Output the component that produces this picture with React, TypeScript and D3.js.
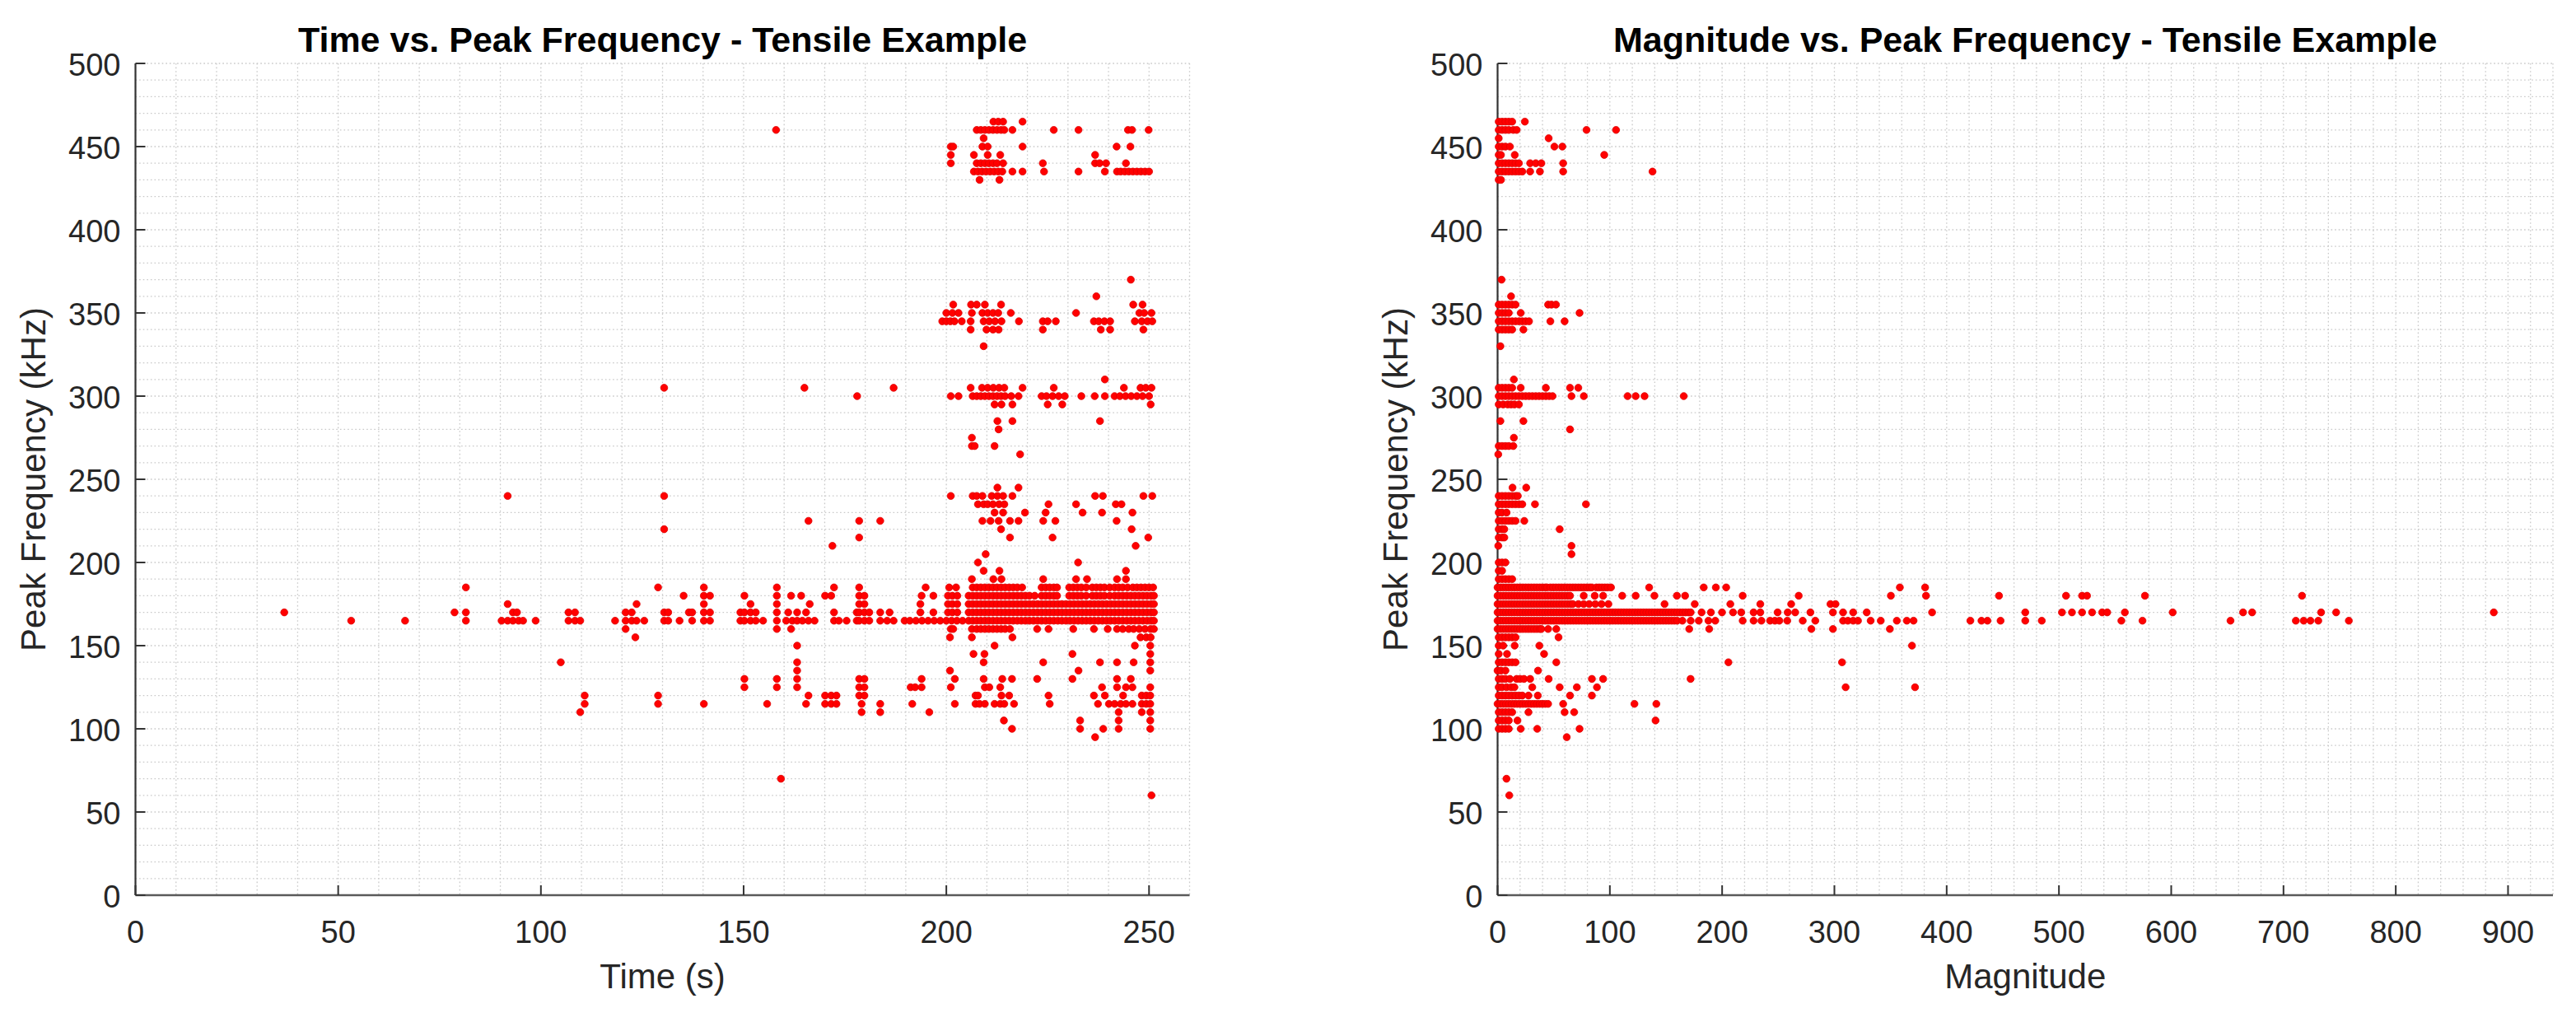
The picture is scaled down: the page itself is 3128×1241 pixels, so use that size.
import React from 'react';
import * as d3 from 'd3';

const W = 3128;
const H = 1241;

// ---------- Left panel: Time (s) values for each Peak Frequency row (kHz) ----------
const L465 = [211.6, 212.8, 214.0, 218.8];
const L460 = [158, 207.5, 208.5, 209.5, 210.5, 211.5, 212.5, 213.5, 214.3, 216.3, 226.5, 232.6, 244.8, 245.8, 249.9];
const L455 = [209.2];
const L450 = [201.1, 201.7, 208.9, 210.2, 218.8, 242.0, 245.4];
const L445 = [201.1, 206.8, 210.2, 213.3, 236.7];
const L440 = [201.1, 207.5, 208.5, 209.5, 210.5, 211.5, 212.5, 214.0, 223.8, 236.7, 237.8, 239.4, 244.3];
const L435 = [206.8, 207.8, 208.8, 209.8, 210.8, 211.8, 212.8, 213.8, 216.3, 218.8, 224.1, 232.6, 239.1, 242.1, 243.0, 244.0, 245.0, 246.0, 247.0, 248.0, 249.0, 250.0];
const L430 = [208.2, 213.1];
const L370 = [245.5];
const L360 = [237.0];
const L355 = [201.7, 206.1, 207.5, 209.5, 213.5, 246.1, 248.4];
const L350 = [200.0, 201.5, 203.0, 206.3, 208.9, 210.2, 211.5, 212.8, 215.9, 232.0, 247.6, 248.8, 250.6];
const L345 = [199.0, 200.0, 201.0, 202.0, 203.8, 206.0, 209.2, 210.6, 212.0, 213.6, 217.9, 223.8, 225.0, 227.0, 236.4, 237.6, 239.0, 240.4, 246.5, 248.2, 249.6, 250.8];
const L340 = [206.0, 209.9, 211.5, 212.9, 223.8, 238.1, 240.4, 248.6];
const L330 = [209.2];
const L310 = [239.1];
const L305 = [130.4, 165.0, 187.0, 206.0, 208.8, 210.2, 211.6, 213.0, 214.3, 218.8, 226.5, 243.8, 247.9, 249.2, 250.6];
const L300 = [178.0, 201.1, 203.0, 206.5, 207.5, 208.5, 209.5, 210.5, 211.5, 212.5, 213.5, 214.5, 216.0, 217.8, 223.5, 224.7, 226.2, 227.7, 229.2, 233.3, 236.6, 239.1, 241.5, 242.8, 244.2, 245.6, 247.0, 248.4, 250.0];
const L295 = [211.9, 213.6, 216.3, 225.0, 228.6, 250.4];
const L285 = [212.6, 216.3, 237.9];
const L280 = [212.9];
const L275 = [206.3];
const L270 = [206.3, 207.0, 211.9];
const L265 = [218.2];
const L245 = [212.6, 217.8];
const L240 = [91.8, 130.4, 201.1, 206.5, 207.5, 208.9, 211.2, 212.6, 214.0, 216.3, 236.7, 238.6, 248.6, 250.8];
const L235 = [207.8, 209.2, 210.2, 211.5, 213.0, 214.3, 225.2, 232.0, 241.8, 243.2];
const L230 = [211.9, 214.0, 219.4, 224.5, 233.6, 238.4, 245.9];
const L225 = [166.0, 178.5, 183.7, 208.9, 210.9, 212.9, 215.7, 217.8, 223.9, 226.9, 242.0];
const L220 = [130.4, 213.5, 245.7];
const L215 = [178.5, 215.7, 226.2, 249.8];
const L210 = [171.9, 246.7];
const L205 = [209.7];
const L200 = [207.8, 232.5];
const L195 = [209.2, 213.1, 244.3];
const L190 = [206.3, 211.6, 213.6, 223.9, 232.0, 234.7, 242.1, 244.3];
const L185 = [81.5, 128.9, 140.2, 158.2, 172.3, 178.5, 194.9, 200.7, 202.4, 206.5, 207.5, 208.5, 209.5, 210.5, 211.5, 212.5, 213.5, 214.5, 215.5, 216.5, 217.5, 218.7, 223.5, 224.5, 225.5, 226.5, 227.3, 230.3, 231.3, 232.3, 233.3, 234.5, 236.0, 237.0, 238.0, 239.0, 240.3, 241.5, 242.5, 243.5, 244.7, 246.0, 247.0, 248.0, 249.0, 250.0, 251.0];
const L180 = [135.2, 140.2, 141.7, 150.2, 158.2, 161.7, 164.2, 170.1, 171.6, 178.5, 179.8, 193.9, 196.8, 200.4, 201.5, 202.7, 205.5, 206.5, 207.5, 208.5, 209.5, 210.5, 211.5, 212.5, 213.5, 214.5, 215.5, 216.5, 217.5, 218.5, 219.5, 220.5, 221.8, 223.5, 224.5, 225.5, 226.5, 227.3, 230.3, 231.3, 232.3, 233.3, 234.5, 236.0, 237.0, 238.0, 239.0, 240.3, 241.5, 242.5, 243.5, 244.5, 245.5, 246.5, 247.5, 248.5, 249.5, 250.5, 251.2];
const L175 = [91.8, 123.6, 140.2, 151.7, 158.2, 166.3, 178.5, 179.8, 193.6, 200.4, 201.5, 202.7, 205.5, 206.5, 207.5, 208.5, 209.5, 210.5, 211.5, 212.5, 213.5, 214.5, 215.5, 216.5, 217.5, 218.5, 219.5, 220.5, 221.5, 222.5, 223.5, 224.5, 225.5, 226.5, 227.5, 228.5, 229.5, 230.5, 231.5, 232.5, 233.5, 234.5, 235.5, 236.5, 237.5, 238.5, 239.5, 240.5, 241.5, 242.5, 243.5, 244.5, 245.5, 246.5, 247.5, 248.5, 249.5, 250.5, 251.2];
const L170 = [36.7, 78.7, 81.5, 93.1, 94.1, 106.8, 108.4, 120.9, 122.4, 130.4, 131.4, 136.5, 137.3, 140.2, 141.7, 149.2, 150.2, 151.7, 153.0, 158.2, 161.0, 163.2, 165.4, 172.3, 177.9, 178.5, 179.8, 181.0, 183.7, 186.0, 193.6, 196.8, 200.4, 201.5, 202.7, 205.5, 206.5, 207.5, 208.5, 209.5, 210.5, 211.5, 212.5, 213.5, 214.5, 215.5, 216.5, 217.5, 218.5, 219.5, 220.5, 221.5, 222.5, 223.5, 224.5, 225.5, 226.5, 227.5, 228.5, 229.5, 230.5, 231.5, 232.5, 233.5, 234.5, 235.5, 236.5, 237.5, 238.5, 239.5, 240.5, 241.5, 242.5, 243.5, 244.5, 245.5, 246.5, 247.5, 248.5, 249.5, 250.5, 251.2];
const L165 = [53.2, 66.5, 81.5, 90.3, 91.8, 93.1, 94.5, 95.6, 98.7, 106.8, 108.4, 109.7, 118.3, 120.9, 122.4, 123.6, 125.5, 130.4, 131.4, 134.2, 137.3, 140.2, 141.7, 149.2, 150.2, 151.7, 153.0, 154.8, 158.2, 160.5, 162.0, 163.2, 164.5, 166.0, 167.5, 172.3, 173.5, 175.4, 177.9, 178.5, 179.8, 181.0, 183.7, 185.4, 187.0, 189.7, 191.0, 192.5, 194.0, 195.5, 197.0, 198.5, 200.0, 201.3, 202.6, 204.0, 205.5, 206.5, 207.5, 208.5, 209.5, 210.5, 211.5, 212.5, 213.5, 214.5, 215.5, 216.5, 217.5, 218.5, 219.5, 220.5, 221.5, 222.5, 223.5, 224.5, 225.5, 226.5, 227.5, 228.5, 229.5, 230.5, 231.5, 232.5, 233.5, 234.5, 235.5, 236.5, 237.5, 238.5, 239.5, 240.5, 241.5, 242.5, 243.5, 244.5, 245.5, 246.5, 247.5, 248.5, 249.5, 250.5, 251.2];
const L160 = [120.9, 158.2, 161.7, 201.1, 201.7, 206.3, 207.5, 208.5, 209.5, 210.5, 211.5, 212.5, 213.5, 214.5, 215.7, 222.4, 225.2, 231.3, 236.4, 239.8, 242.1, 243.5, 245.0, 246.2, 247.6, 249.0, 250.4, 251.2];
const L155 = [123.3, 200.9, 206.3, 216.3, 247.9, 249.3, 250.4];
const L150 = [163.2, 211.9, 246.5, 250.3];
const L145 = [206.7, 209.4, 231.1, 250.3];
const L140 = [104.9, 163.2, 209.2, 223.9, 237.9, 242.1, 246.2, 250.3];
const L135 = [163.2, 200.9, 232.6, 250.3];
const L130 = [150.2, 158.2, 163.2, 178.5, 179.8, 193.9, 202.1, 209.2, 213.8, 216.2, 222.4, 231.1, 242.1, 245.5];
const L125 = [150.2, 158.2, 163.2, 178.5, 179.8, 191.2, 192.3, 193.9, 201.1, 209.5, 210.6, 213.3, 238.4, 242.1, 244.3, 245.9, 250.3];
const L120 = [110.8, 128.9, 166.0, 170.1, 171.6, 172.9, 178.5, 179.8, 207.2, 207.8, 213.6, 215.5, 225.2, 236.4, 239.1, 243.6, 248.2, 249.3, 250.3];
const L115 = [110.8, 128.9, 140.2, 155.8, 165.4, 170.1, 171.6, 172.9, 179.1, 183.7, 191.6, 202.1, 207.2, 208.2, 209.5, 211.9, 213.3, 214.3, 216.7, 225.5, 237.4, 240.1, 241.5, 243.0, 244.3, 245.9, 248.2, 249.3, 250.3];
const L110 = [109.7, 179.1, 183.7, 195.8, 242.5, 248.2, 250.3];
const L105 = [214.2, 233.0, 242.5, 250.3];
const L100 = [216.2, 233.0, 238.7, 242.5, 250.3];
const L95 = [236.7];
const L70 = [159.2];
const L60 = [250.6];

// ---------- Right panel: Magnitude values for each Peak Frequency row (kHz) ----------
const R465 = [1, 4, 7, 10, 13, 24.3];
const R460 = [1, 4, 7, 10, 14, 17, 79.2, 105.5];
const R455 = [1, 45.5];
const R450 = [1, 4, 7, 11, 50.6, 57.7];
const R445 = [1, 3, 15.3, 95];
const R440 = [1, 4, 7, 10, 13, 16, 19, 29, 34, 39, 58.4];
const R435 = [1, 4, 7, 10, 13, 16, 19, 22, 29, 37.7, 58.4, 138];
const R430 = [1, 3];
const R370 = [3.5];
const R360 = [12];
const R355 = [1, 4, 7, 10, 13, 16, 45, 48, 52];
const R350 = [1, 4, 7, 10, 20.6, 73];
const R345 = [1, 4, 7, 10, 13, 16, 19, 22, 25, 28, 47, 59.7];
const R340 = [1, 4, 7, 10, 13, 23];
const R330 = [2.5];
const R310 = [14.5];
const R305 = [1, 4, 7, 10, 13, 20.6, 43, 64.5, 71.9];
const R300 = [1, 4, 7, 10, 13, 16, 19, 22, 25, 28, 31, 34, 37, 40, 43, 46, 49, 65.8, 76.8, 115.8, 123, 130.9, 165.8];
const R295 = [1, 5, 9, 12, 15, 19];
const R285 = [2.5, 23];
const R280 = [64.5];
const R275 = [14.5];
const R270 = [1, 4, 7, 10, 14];
const R265 = [0.6];
const R245 = [13.3, 25.5];
const R240 = [1, 4, 7, 10, 13, 16, 18];
const R235 = [1, 4, 7, 10, 13, 16, 19, 22, 33.3, 78.7];
const R230 = [1, 4, 8];
const R225 = [1, 4, 7, 10, 13, 16, 23.8];
const R220 = [1, 4, 6, 55.3];
const R215 = [1, 4, 6];
const R210 = [0.6, 65.8];
const R205 = [65.8];
const R200 = [1, 4, 7];
const R195 = [1, 4];
const R190 = [1, 4, 7, 10, 13];
const R185 = [0, 2.5, 5, 7.5, 10, 12.5, 15, 17.5, 20, 22.5, 25, 27.5, 30, 32.5, 35, 37.5, 40, 42.5, 44, 47, 49.5, 52, 54.5, 57, 59.5, 62, 64.5, 67, 69.5, 72, 74.5, 77, 79.5, 82, 84, 88, 90.5, 93, 95.5, 98, 101, 135, 183.6, 194.4, 203.6, 358.3, 380.8];
const R180 = [0, 2.5, 5, 7.5, 10, 12.5, 15, 17.5, 20, 22.5, 25, 27.5, 30, 32.5, 35, 37.5, 40, 42.5, 45, 47.5, 50, 52.5, 55, 57.5, 60, 62.5, 64.5, 76.7, 86.5, 94, 111, 123, 139.7, 159.7, 167, 218.3, 268.2, 350.3, 381.6, 446.6, 506.3, 520.6, 525, 576.6, 716.5];
const R175 = [0, 2.5, 5, 7.5, 10, 12.5, 15, 17.5, 20, 22.5, 25, 27.5, 30, 32.5, 35, 37.5, 40, 42.5, 45, 47.5, 50, 52.5, 55, 57.5, 60, 62.5, 65, 67, 72, 76.7, 81.6, 87, 92.6, 98.7, 148.7, 175.6, 207.3, 234, 261.5, 296.5, 301];
const R170 = [0, 2.5, 5, 7.5, 10, 12.5, 15, 17.5, 20, 22.5, 25, 27.5, 30, 32.5, 35, 37.5, 40, 42.5, 45, 47.5, 50, 52.5, 55, 57.5, 60, 62.5, 65, 67.5, 70, 72.5, 75, 77.5, 80, 82.5, 85, 87.5, 90, 92.5, 95, 97.5, 100, 102.5, 105, 107.5, 110, 112.5, 115, 117.5, 120, 122.5, 125, 127.5, 130, 132.5, 135, 137.5, 140, 142.5, 145, 147.5, 150, 152.5, 155, 157.5, 160, 162.5, 165, 167.5, 170, 172, 181.7, 190, 199.9, 209.7, 217, 228, 234, 249.4, 258.4, 265.1, 278.6, 298.7, 307.7, 316.7, 328.8, 387, 470, 502.7, 511.6, 520.6, 529.5, 538.5, 543, 558.7, 601.3, 664, 672.1, 733.5, 746.9, 887.3];
const R165 = [0, 2.5, 5, 7.5, 10, 12.5, 15, 17.5, 20, 22.5, 25, 27.5, 30, 32.5, 35, 37.5, 40, 42.5, 45, 47.5, 50, 52.5, 55, 57.5, 60, 62.5, 65, 67.5, 70, 72.5, 75, 77.5, 80, 82.5, 85, 87.5, 90, 92.5, 95, 97.5, 100, 102.5, 105, 107.5, 110, 112.5, 115, 117.5, 120, 122.5, 125, 127.5, 130, 132.5, 135, 137.5, 140, 142.5, 145, 147.5, 150, 152.5, 155, 157.5, 160, 164.6, 172, 179.2, 187.8, 193.9, 218.3, 228, 235, 242.7, 247, 251, 258, 271.8, 283, 307.7, 312, 316.7, 321, 332.3, 341.3, 355.6, 364.5, 370.5, 421.1, 431, 436.3, 448, 470, 484.7, 555.6, 574.4, 652.8, 711, 718, 724, 731, 758.2];
const R160 = [0, 2.5, 5, 7.5, 10, 12.5, 15, 17.5, 20, 22.5, 25, 27.5, 30, 32.5, 35, 37.5, 39, 45, 52.3, 170.7, 188.5, 279.5, 298.7, 349.4];
const R155 = [1, 4, 7, 10, 13, 16, 54.3];
const R150 = [1, 5, 15.2, 37.2, 369.1];
const R145 = [1, 8.4, 41.4];
const R140 = [1, 4, 7, 10, 13, 16, 52.3, 205.6, 306.8];
const R135 = [0, 3, 7, 36];
const R130 = [1, 4, 7, 11, 17, 20, 23.5, 29, 45.5, 84, 94, 171.9];
const R125 = [1, 4, 8, 12, 15, 30.9, 55.3, 70.6, 88.5, 310, 371.8];
const R120 = [1, 4, 7, 10, 13, 16, 19, 22, 27.5, 35.8, 64.5, 84];
const R115 = [0, 2.5, 5, 7.5, 10, 12.5, 15, 17.5, 20, 22.5, 25, 27.5, 30, 32.5, 35, 37.5, 40, 42.5, 45, 58.4, 121.9, 141.4];
const R110 = [1, 4, 7, 10, 13, 27.5, 59.7, 68.2];
const R105 = [1, 4, 7, 10, 17.7, 140.7];
const R100 = [1, 4, 7, 10, 20.6, 35.3, 73];
const R95 = [61.6];
const R70 = [7.9];
const R60 = [10.4];

const leftRows: [number, number[]][] = [
  [465, L465], [460, L460], [455, L455], [450, L450], [445, L445], [440, L440], [435, L435], [430, L430],
  [370, L370], [360, L360], [355, L355], [350, L350], [345, L345], [340, L340], [330, L330],
  [310, L310], [305, L305], [300, L300], [295, L295], [285, L285], [280, L280], [275, L275], [270, L270], [265, L265],
  [245, L245], [240, L240], [235, L235], [230, L230], [225, L225], [220, L220], [215, L215], [210, L210], [205, L205],
  [200, L200], [195, L195], [190, L190], [185, L185], [180, L180], [175, L175], [170, L170], [165, L165], [160, L160],
  [155, L155], [150, L150], [145, L145], [140, L140], [135, L135], [130, L130], [125, L125], [120, L120], [115, L115],
  [110, L110], [105, L105], [100, L100], [95, L95], [70, L70], [60, L60],
];

const rightRows: [number, number[]][] = [
  [465, R465], [460, R460], [455, R455], [450, R450], [445, R445], [440, R440], [435, R435], [430, R430],
  [370, R370], [360, R360], [355, R355], [350, R350], [345, R345], [340, R340], [330, R330],
  [310, R310], [305, R305], [300, R300], [295, R295], [285, R285], [280, R280], [275, R275], [270, R270], [265, R265],
  [245, R245], [240, R240], [235, R235], [230, R230], [225, R225], [220, R220], [215, R215], [210, R210], [205, R205],
  [200, R200], [195, R195], [190, R190], [185, R185], [180, R180], [175, R175], [170, R170], [165, R165], [160, R160],
  [155, R155], [150, R150], [145, R145], [140, R140], [135, R135], [130, R130], [125, R125], [120, R120], [115, R115],
  [110, R110], [105, R105], [100, R100], [95, R95], [70, R70], [60, R60],
];

const yTicks = [0, 50, 100, 150, 200, 250, 300, 350, 400, 450, 500];
const xTicksLeft = [0, 50, 100, 150, 200, 250];
const xTicksRight = [0, 100, 200, 300, 400, 500, 600, 700, 800, 900];

const FONT = "'Liberation Sans', Arial, Helvetica, sans-serif";
const TOP = 77;
const BOTTOM = 1087;

type PanelProps = {
  left: number;
  right: number;
  xMax: number;
  minorX: number;
  xTicks: number[];
  rows: [number, number[]][];
  title: string;
  xLabel: string;
};

function Panel({ left, right, xMax, minorX, xTicks, rows, title, xLabel }: PanelProps) {
  const x = d3.scaleLinear().domain([0, xMax]).range([left, right]);
  const y = d3.scaleLinear().domain([0, 500]).range([BOTTOM, TOP]);
  const vGrid = d3.range(0, xMax + 0.001, minorX);
  const hGrid = d3.range(0, 500.001, 10);
  const cx = (left + right) / 2;
  const cy = (TOP + BOTTOM) / 2;
  const gridStyle = { stroke: '#c9c9c9', strokeWidth: 1.3, strokeDasharray: '1.6 3' };
  return (
    <g>
      {vGrid.map((v) => (
        <line key={'vg' + v} x1={x(v)} x2={x(v)} y1={TOP} y2={BOTTOM} {...gridStyle} />
      ))}
      {hGrid.map((v) => (
        <line key={'hg' + v} x1={left} x2={right} y1={y(v)} y2={y(v)} {...gridStyle} />
      ))}
      <line x1={left} x2={right} y1={BOTTOM} y2={BOTTOM} stroke="#5a5a5a" strokeWidth={2.5} />
      <line x1={left} x2={left} y1={TOP} y2={BOTTOM} stroke="#333333" strokeWidth={2.2} />
      {xTicks.map((v) => (
        <g key={'xt' + v}>
          <line x1={x(v)} x2={x(v)} y1={BOTTOM} y2={BOTTOM - 12} stroke="#333333" strokeWidth={2} />
          <text x={x(v)} y={BOTTOM + 58} textAnchor="middle" fontFamily={FONT} fontSize={38} fill="#262626">
            {v}
          </text>
        </g>
      ))}
      {yTicks.map((v) => (
        <g key={'yt' + v}>
          <line x1={left} x2={left + 12} y1={y(v)} y2={y(v)} stroke="#333333" strokeWidth={2} />
          <text x={left - 18} y={y(v) + 15} textAnchor="end" fontFamily={FONT} fontSize={38} fill="#262626">
            {v}
          </text>
        </g>
      ))}
      {rows.map(([f, vals]) =>
        vals.map((v, i) => (
          <circle key={f + '-' + i} cx={x(v)} cy={y(f)} r={4.3} fill="#ff0000" stroke="#dd0000" strokeWidth={0.8} />
        ))
      )}
      <text x={cx} y={63} textAnchor="middle" fontFamily={FONT} fontSize={43} fontWeight="bold" fill="#000">
        {title}
      </text>
      <text x={cx} y={1200} textAnchor="middle" fontFamily={FONT} fontSize={42} fill="#262626">
        {xLabel}
      </text>
      <text
        transform={`translate(${left - 110},${cy}) rotate(-90)`}
        textAnchor="middle"
        fontFamily={FONT}
        fontSize={42}
        fill="#262626"
      >
        Peak Frequency (kHz)
      </text>
    </g>
  );
}

export default function App() {
  return (
    <svg
      width={W}
      height={H}
      viewBox={`0 0 ${W} ${H}`}
      style={{ position: 'absolute', left: 0, top: 0, background: '#fff' }}
    >
      <rect x={0} y={0} width={W} height={H} fill="#ffffff" />
      <Panel
        left={164.5}
        right={1444.5}
        xMax={260}
        minorX={10}
        xTicks={xTicksLeft}
        rows={leftRows}
        title="Time vs. Peak Frequency - Tensile Example"
        xLabel="Time (s)"
      />
      <Panel
        left={1818.5}
        right={3100}
        xMax={940}
        minorX={20}
        xTicks={xTicksRight}
        rows={rightRows}
        title="Magnitude vs. Peak Frequency - Tensile Example"
        xLabel="Magnitude"
      />
    </svg>
  );
}
